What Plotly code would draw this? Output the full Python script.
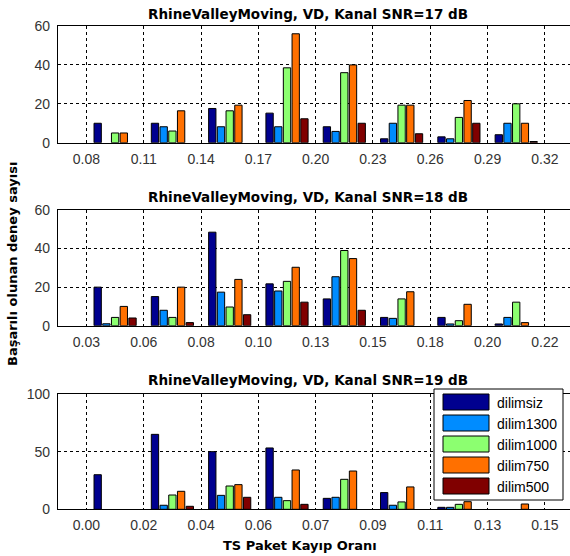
import plotly.graph_objects as go

W, H = 570, 556

series_names = ["dilimsiz", "dilim1300", "dilim1000", "dilim750", "dilim500"]
series_colors = ["#00008F", "#008CFF", "#8CFF70", "#FF7000", "#800000"]

titles = [
    "RhineValleyMoving, VD, Kanal SNR=17 dB",
    "RhineValleyMoving, VD, Kanal SNR=18 dB",
    "RhineValleyMoving, VD, Kanal SNR=19 dB",
]

tick_labels_1 = ["0.08", "0.11", "0.14", "0.17", "0.20", "0.23", "0.26", "0.29", "0.32"]
tick_labels_2 = ["0.03", "0.06", "0.08", "0.10", "0.13", "0.15", "0.18", "0.20", "0.22"]
tick_labels_3 = ["0.00", "0.02", "0.04", "0.06", "0.07", "0.09", "0.11", "0.13", "0.15"]

# values per series, one per bin (8 bins between the 9 ticks)
snr17_dilimsiz = [10, 10, 17.6, 15.2, 8.2, 2, 3, 4.1]
snr17_dilim1300 = [0, 8.2, 8.2, 8.2, 5.8, 10, 2, 10]
snr17_dilim1000 = [5, 6, 16.4, 38.5, 36, 19.3, 13, 20]
snr17_dilim750 = [5, 16.4, 19.3, 56, 40, 19.3, 21.7, 10]
snr17_dilim500 = [0, 0, 0, 12.3, 10, 4.6, 10, 0.6]

snr18_dilimsiz = [20, 15.1, 48.5, 21.7, 13.9, 4.3, 4.3, 0.9]
snr18_dilim1300 = [1, 8, 17.4, 18, 25.4, 3.8, 0.9, 4.3]
snr18_dilim1000 = [4.3, 4.3, 9.7, 23, 39, 13.9, 2.6, 12.2]
snr18_dilim750 = [10, 20, 24, 30.3, 34.8, 17.6, 11.1, 1.6]
snr18_dilim500 = [4, 1.6, 5.7, 12.2, 8, 0, 0, 0]

snr19_dilimsiz = [30, 65, 50, 53.2, 9.5, 14.5, 1.7, 0]
snr19_dilim1300 = [0, 3.5, 12.1, 10.4, 10.4, 3.5, 1.7, 0]
snr19_dilim1000 = [0, 12.4, 20.2, 7.5, 26, 6.4, 4.3, 0]
snr19_dilim750 = [0, 15.6, 21.4, 34.1, 33.2, 19.4, 6.6, 4.6]
snr19_dilim500 = [0, 2.6, 10.4, 4.3, 0, 0, 0, 0]

panels = [
    dict(labels=tick_labels_1, data=[snr17_dilimsiz, snr17_dilim1300, snr17_dilim1000, snr17_dilim750, snr17_dilim500],
         yrange=[0, 60], ytick=[0, 20, 40, 60], top=26, bottom=142.7, title_y=14),
    dict(labels=tick_labels_2, data=[snr18_dilimsiz, snr18_dilim1300, snr18_dilim1000, snr18_dilim750, snr18_dilim500],
         yrange=[0, 60], ytick=[0, 20, 40, 60], top=210, bottom=325.7, title_y=197),
    dict(labels=tick_labels_3, data=[snr19_dilimsiz, snr19_dilim1300, snr19_dilim1000, snr19_dilim750, snr19_dilim500],
         yrange=[0, 100], ytick=[0, 50, 100], top=394, bottom=509.3, title_y=380),
]

left_px = 57.8
tick_step_px = 57.3
x_hi = 0.5 + (W - left_px) / tick_step_px

FONT = "Liberation Sans, Arial, sans-serif"
BOLD = "DejaVu Sans, Verdana, sans-serif"

fig = go.Figure()
annotations = []
shapes = []

for p, panel in enumerate(panels):
    ax = "" if p == 0 else str(p + 1)
    n_ticks = len(panel["labels"])
    bins = [i + 1.5 for i in range(n_ticks - 1)]
    for s, name in enumerate(series_names):
        vals = [v if v > 0 else None for v in panel["data"][s]]  # empty bins draw nothing
        fig.add_trace(go.Bar(
            x=bins, y=vals, name=name,
            marker=dict(color=series_colors[s], line=dict(color="#000000", width=1)),
            xaxis="x" + ax, yaxis="y" + ax, showlegend=False, hoverinfo="skip",
            offsetgroup=str(s),
        ))
    ydom = [1 - panel["bottom"] / H, 1 - panel["top"] / H]
    fig.update_layout(**{
        "xaxis" + ax: dict(
            domain=[left_px / W, 1.0], range=[0.5, x_hi], anchor="y" + ax,
            tickvals=list(range(1, n_ticks + 1)), ticktext=panel["labels"],
            showgrid=True, gridcolor="#000000", gridwidth=1, griddash="3px,3px",
            showline=True, linecolor="#000000", linewidth=1, mirror=True,
            ticks="", ticklabelstandoff=3, zeroline=False,
            tickfont=dict(family=FONT, size=14, color="#333333"),
            automargin=False, fixedrange=True,
        ),
        "yaxis" + ax: dict(
            domain=ydom, range=panel["yrange"], anchor="x" + ax,
            tickvals=panel["ytick"],
            showgrid=True, gridcolor="#000000", gridwidth=1, griddash="3px,3px",
            showline=True, linecolor="#000000", linewidth=1, mirror=False,
            ticks="", ticklabelstandoff=4, zeroline=False,
            tickfont=dict(family=FONT, size=14, color="#333333"),
            automargin=False, fixedrange=True,
        ),
    })
    annotations.append(dict(
        text="<b>" + titles[p] + "</b>", xref="paper", yref="paper",
        x=308 / W, y=1 - panel["title_y"] / H, xanchor="center", yanchor="middle",
        showarrow=False, font=dict(family=BOLD, size=13.5, color="#000000"),
    ))

# axis titles
annotations.append(dict(
    text="<b>TS Paket Kayıp Oranı</b>", xref="paper", yref="paper",
    x=300 / W, y=1 - 545 / H, xanchor="center", yanchor="middle",
    showarrow=False, font=dict(family=BOLD, size=13, color="#000000"),
))
annotations.append(dict(
    text="<b>Başarılı olunan deney sayısı</b>", xref="paper", yref="paper",
    x=13 / W, y=1 - 264 / H, xanchor="center", yanchor="middle", textangle=-90,
    showarrow=False, font=dict(family=BOLD, size=13, color="#000000"),
))

# manual legend (large swatches as in the original)
lx0, lx1, ly0, ly1 = 434, 563, 389, 500
shapes.append(dict(type="rect", xref="paper", yref="paper",
                   x0=lx0 / W, x1=lx1 / W, y0=1 - ly1 / H, y1=1 - ly0 / H,
                   fillcolor="#FFFFFF", line=dict(color="#000000", width=1), layer="above"))
for k, name in enumerate(series_names):
    top = 394 + 21 * k
    shapes.append(dict(type="rect", xref="paper", yref="paper",
                       x0=443 / W, x1=489 / W, y0=1 - (top + 16) / H, y1=1 - top / H,
                       fillcolor=series_colors[k], line=dict(color="#000000", width=1), layer="above"))
    annotations.append(dict(
        text=name, xref="paper", yref="paper", x=495 / W, y=1 - (top + 8.5) / H,
        xanchor="left", yanchor="middle", showarrow=False,
        font=dict(family=FONT, size=14, color="#000000"),
    ))

fig.update_layout(
    width=W, height=H, margin=dict(l=0, r=0, t=0, b=0),
    paper_bgcolor="#FFFFFF", plot_bgcolor="#FFFFFF",
    barmode="group", bargap=0.24, bargroupgap=0.16,
    showlegend=False, annotations=annotations, shapes=shapes,
    font=dict(family=FONT),
)

fig.write_html("out.html", config={"displayModeBar": False})
